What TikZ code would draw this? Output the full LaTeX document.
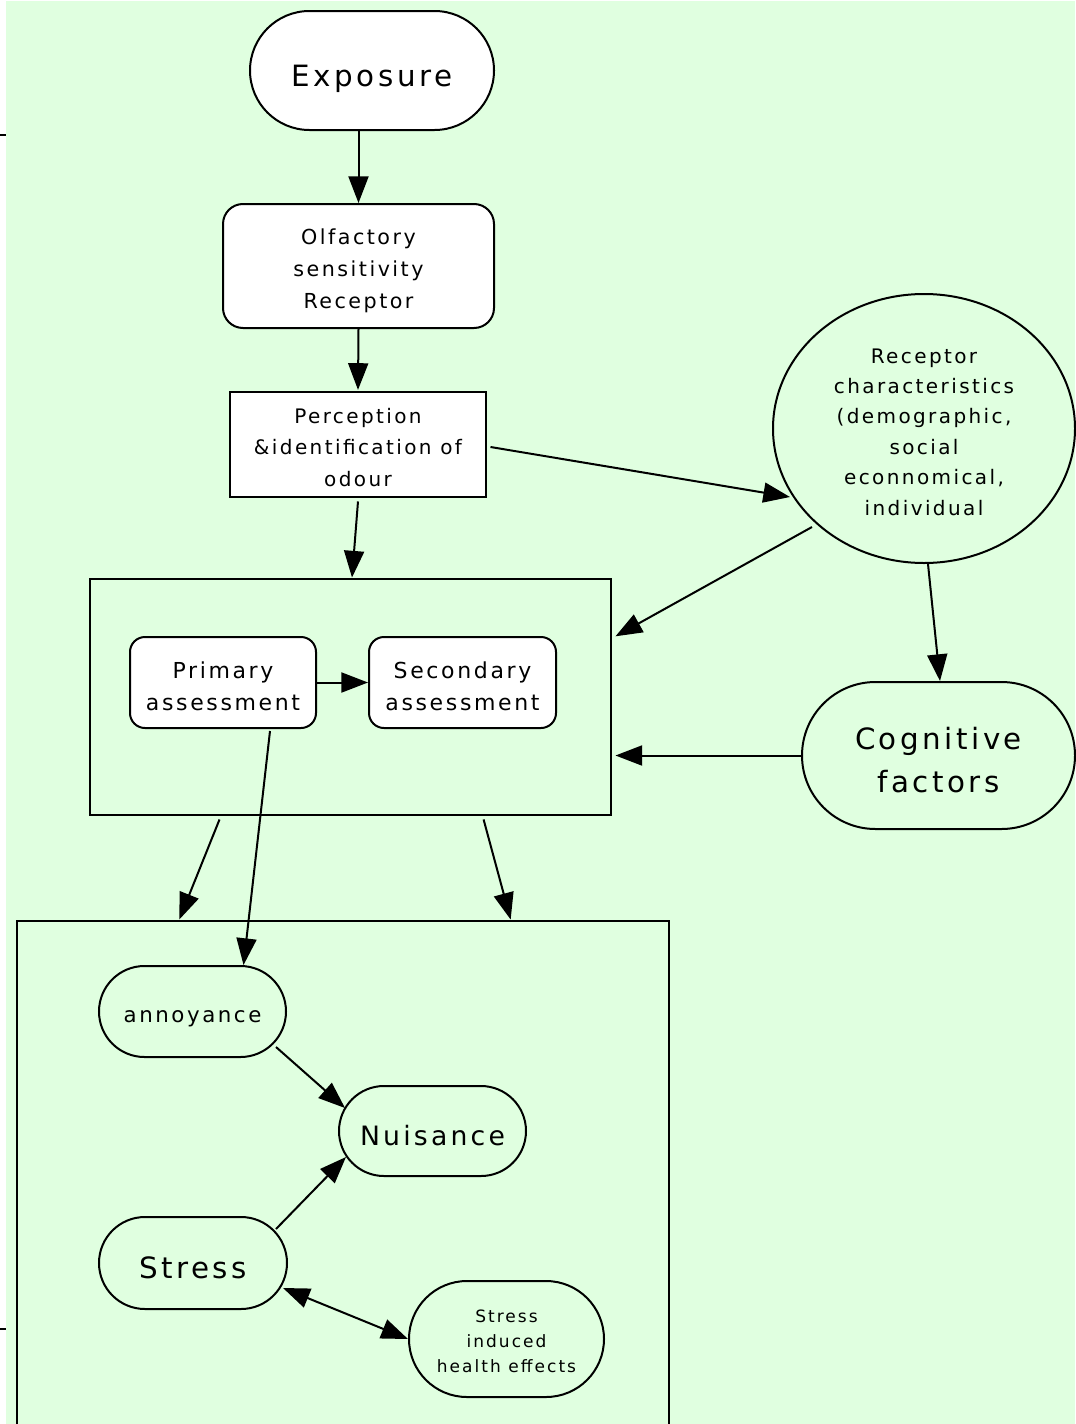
\documentclass[tikz,border=0pt]{standalone}
\usepackage{fontspec}
\setmainfont{DejaVu Sans}[LetterSpace=12]
\usetikzlibrary{shapes.geometric,arrows.meta,calc}
\definecolor{bg}{RGB}{224,255,224}
\newcommand\pxu{0.75pt}
% struts: first-line height and last-line depth, to place text as the reference does
\newcommand\tstr[1]{\rule{0pt}{#1}}
\newcommand\bstr[1]{\rule[-#1]{0pt}{#1}}
\begin{document}
\begin{tikzpicture}[x=0.75pt,y=-0.75pt,
  base/.style={draw=black, line width=1.5pt, align=center, inner sep=0pt, text=black},
  thick box/.style={base, line width=2.2pt},
  arr/.style={-{Triangle[length=20pt,width=15pt]}, line width=1.5pt},
  biarr/.style={{Triangle[length=20pt,width=15pt]}-{Triangle[length=20pt,width=15pt]}, line width=1.5pt},
  tick/.style={line width=2pt}]
\useasboundingbox (0,0) rectangle (1075,1424);
\fill[bg] (6,1) rectangle (1075,1424);
\coordinate (t1a) at (0,135); \coordinate (t1b) at (6,135);
\coordinate (t2a) at (0,1329); \coordinate (t2b) at (6,1329);
\draw[tick] (t1a) -- (t1b);
\draw[tick] (t2a) -- (t2b);

% nodes
\node[base, fill=white, minimum width=244*\pxu, minimum height=119*\pxu, rounded corners=59.5*\pxu,
  font={\fontsize{22pt}{32pt}\selectfont}] (expo) at (372,70.5) {\tstr{30.75pt}Exposure\bstr{7.5pt}};
\node[base, fill=white, minimum width=271*\pxu, minimum height=124*\pxu, rounded corners=20*\pxu,
  font={\fontsize{15.5pt}{24pt}\selectfont}] (olf) at (358.5,266) {\tstr{20pt}Olfactory\\sensitivity\\Receptor\bstr{4.5pt}};
\node[thick box, fill=white, minimum width=256*\pxu, minimum height=105*\pxu,
  font={\fontsize{15pt}{23.5pt}\selectfont}] (perc) at (358,444.5) {\tstr{19.8pt}Perception\\\&identification of\\odour\bstr{4.5pt}};
\node[base, ellipse, fill=bg, minimum width=302*\pxu, minimum height=269*\pxu,
  font={\fontsize{15pt}{22.8pt}\selectfont}] (rec) at (924,428.5)
  {\tstr{20.25pt}Receptor\\characteristics\\(demographic,\\social\\econnomical,\\individual\bstr{4.5pt}};
\node[thick box, minimum width=521*\pxu, minimum height=236*\pxu] (box1) at (350.5,697) {};
\node[base, fill=white, minimum width=186*\pxu, minimum height=91*\pxu, rounded corners=15*\pxu,
  font={\fontsize{16.5pt}{24pt}\selectfont}] (prim) at (223,682.5) {\tstr{21.6pt}Primary\\assessment\bstr{3pt}};
\node[base, fill=white, minimum width=187*\pxu, minimum height=91*\pxu, rounded corners=15*\pxu,
  font={\fontsize{16.5pt}{24pt}\selectfont}] (sec) at (462.5,682.5) {\tstr{21.6pt}Secondary\\assessment\bstr{3pt}};
\node[base, fill=bg, minimum width=273*\pxu, minimum height=147*\pxu, rounded corners=73.5*\pxu,
  font={\fontsize{22pt}{32.25pt}\selectfont}] (cog) at (938.5,755.5) {\tstr{28.5pt}Cognitive\\factors\bstr{6pt}};
\node[thick box, minimum width=652*\pxu, minimum height=519*\pxu] (box2) at (343,1180.5) {};
\node[base, fill=bg, minimum width=187*\pxu, minimum height=91*\pxu, rounded corners=45.5*\pxu,
  font={\fontsize{16pt}{24pt}\selectfont}] (ann) at (192.5,1011.5) {\tstr{21.3pt}annoyance\bstr{4.5pt}};
\node[base, fill=bg, minimum width=187*\pxu, minimum height=90*\pxu, rounded corners=45*\pxu,
  font={\fontsize{20pt}{30pt}\selectfont}] (nuis) at (432.5,1131) {\tstr{26.25pt}Nuisance\bstr{5.25pt}};
\node[base, fill=bg, minimum width=188*\pxu, minimum height=92*\pxu, rounded corners=46*\pxu,
  font={\fontsize{22pt}{32pt}\selectfont}] (stress) at (193,1263) {\tstr{28.95pt}Stress\bstr{6pt}};
\node[base, fill=bg, minimum width=195*\pxu, minimum height=116*\pxu, rounded corners=58*\pxu,
  font={\fontsize{12.75pt}{18.4pt}\selectfont}] (health) at (506.5,1339) {\tstr{16.5pt}Stress\\induced\\health effects\bstr{3.75pt}};

% connectors
\draw[arr] (expo.south -| olf.north) -- (olf.north);
\draw[arr] (olf.south) -- ([yshift=0.5pt]perc.north);
\draw[arr] ([yshift=-3*\pxu]perc.south) -- ([xshift=1.5*\pxu]box1.north);
\draw[arr] ($(perc.east)+(3,2.5)$) -- ($(rec.center)+(-134,68.5)$);
\draw[arr] ($(rec.center)+(-112,98.5)$) -- ($(box1.north east)!0.246!(box1.south east)+(3,0)$);
\draw[arr] ([xshift=4*\pxu]rec.south) -- ([xshift=1.5*\pxu]cog.north);
\draw[arr] (cog.west) -- ($(cog.west -| box1.east)+(3,0)$);
\draw[arr] (prim.east) -- (sec.west);
\draw[arr] ($(box1.south west)!0.25!(box1.south east)+(0,3)$) -- ($(box2.north west)!0.25!(box2.north east)$);
\draw[arr] ($(box1.south west)!0.754!(box1.south east)+(0,3)$) -- ($(box2.north west)!0.756!(box2.north east)$);
\draw[arr] ($(prim.south west)!0.75!(prim.south east)+(0,2)$) -- ($(ann.north west)!0.77!(ann.north east)$);
\draw[arr] ($(ann.center)+(83.5,35.5)$) -- ($(nuis.center)+(-87.5,-23)$);
\draw[arr] ($(stress.center)+(83,-34)$) -- ($(nuis.center)+(-86.5,26)$);
\draw[biarr] ($(stress.center)+(90,25)$) -- (health.west);
\end{tikzpicture}
\end{document}
